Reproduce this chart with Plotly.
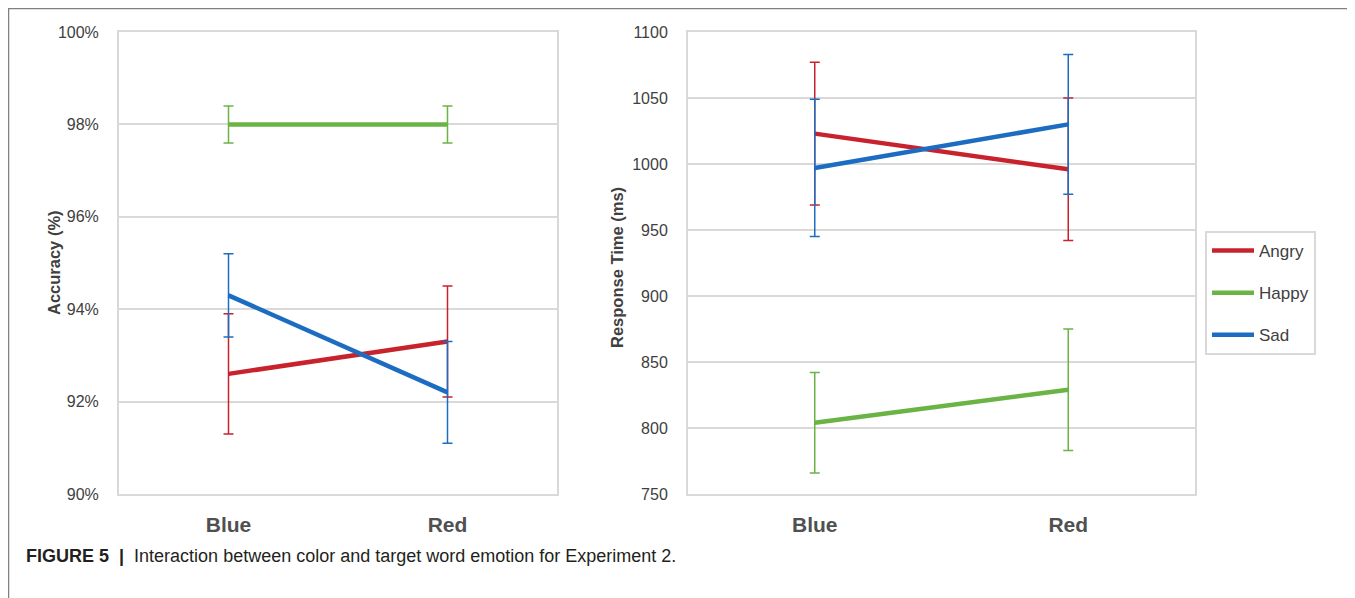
import plotly.graph_objects as go

categories = ["Blue", "Red"]
emotions = ["Angry", "Happy", "Sad"]
colors = {"Angry": "#C8232C", "Happy": "#6AB446", "Sad": "#1C6DC1"}

# Accuracy (%)
acc_angry = [92.6, 93.3]
acc_angry_err = [1.3, 1.2]
acc_happy = [98.0, 98.0]
acc_happy_err = [0.4, 0.4]
acc_sad = [94.3, 92.2]
acc_sad_err = [0.9, 1.1]

# Response time (ms)
rt_angry = [1023, 996]
rt_angry_err = [54, 54]
rt_happy = [804, 829]
rt_happy_err = [38, 46]
rt_sad = [997, 1030]
rt_sad_err = [52, 53]

acc_ticks = [90, 92, 94, 96, 98, 100]
rt_ticks = [750, 800, 850, 900, 950, 1000, 1050, 1100]

acc = {"Angry": (acc_angry, acc_angry_err), "Happy": (acc_happy, acc_happy_err), "Sad": (acc_sad, acc_sad_err)}
rt = {"Angry": (rt_angry, rt_angry_err), "Happy": (rt_happy, rt_happy_err), "Sad": (rt_sad, rt_sad_err)}

# page body has an 8px margin; figure is sized to fill the rest of the window
OFF = 8
W, H = 1355 - OFF, 598 - OFF
FONT = "Liberation Sans, Arial, sans-serif"
GRID = "#D9D9D9"

fig = go.Figure()
for e in emotions:
    v, err = acc[e]
    fig.add_trace(go.Scatter(x=categories, y=v, mode="lines", name=e, showlegend=False,
                             line=dict(color=colors[e], width=4.5),
                             error_y=dict(type="data", array=err, color=colors[e], thickness=1.5, width=5),
                             xaxis="x", yaxis="y"))
for e in emotions:
    v, err = rt[e]
    fig.add_trace(go.Scatter(x=categories, y=v, mode="lines", name=e, showlegend=True,
                             legendgroup=e,
                             line=dict(color=colors[e], width=4.5),
                             error_y=dict(type="data", array=err, color=colors[e], thickness=1.5, width=5),
                             xaxis="x2", yaxis="y2"))

def px_x(p):
    return (p - OFF) / W

def px_y(p):
    return (H - (p - OFF)) / H

xdom1 = [px_x(119), px_x(557)]
xdom2 = [px_x(688), px_x(1195)]
ydom = [px_y(494), px_y(32)]

xcommon = dict(type="category", range=[-0.5, 1.5], showgrid=False, zeroline=False,
               showline=True, linecolor=GRID, linewidth=2, mirror=True, ticks="",
               tickfont=dict(family=FONT, size=21, color="#505050", weight="bold"),
               ticklabelstandoff=11, automargin=False)
ycommon = dict(showgrid=True, gridcolor=GRID, gridwidth=2, zeroline=False,
               showline=True, linecolor=GRID, linewidth=2, mirror=True, ticks="",
               tickfont=dict(family=FONT, size=16, color="#404040"),
               ticklabelstandoff=15, automargin=False)

fig.update_layout(
    width=W, height=H,
    margin=dict(l=0, r=0, t=0, b=0),
    paper_bgcolor="white", plot_bgcolor="white",
    xaxis=dict(domain=xdom1, anchor="y", **xcommon),
    yaxis=dict(domain=ydom, anchor="x", range=[90, 100], tickvals=acc_ticks,
               ticktext=[f"{t}%" for t in acc_ticks], **ycommon),
    xaxis2=dict(domain=xdom2, anchor="y2", **xcommon),
    yaxis2=dict(domain=ydom, anchor="x2", range=[750, 1100], tickvals=rt_ticks, **ycommon),
    legend=dict(x=px_x(1205), y=px_y(231), xanchor="left", yanchor="top",
                bordercolor=GRID, borderwidth=2, bgcolor="white",
                font=dict(family=FONT, size=17, color="#404040"),
                tracegroupgap=17, itemwidth=42),
    showlegend=True,
)

title_font = dict(family=FONT, size=16.5, color="#404040")
annotations = [
    dict(text="<b>Accuracy (%)</b>", x=px_x(43), y=px_y(263), xref="paper", yref="paper",
         textangle=-90, showarrow=False, font=title_font),
    dict(text="<b>Response Time (ms)</b>", x=px_x(617), y=px_y(268), xref="paper", yref="paper",
         textangle=-90, showarrow=False, font=title_font),
    dict(text="<b>FIGURE 5</b>  <b>|</b>  Interaction between color and target word emotion for Experiment 2.",
         x=px_x(24), y=px_y(556), xref="paper", yref="paper", xanchor="left", yanchor="middle",
         showarrow=False, font=dict(family=FONT, size=18, color="#231F20")),
]
fig.update_layout(annotations=annotations)

frame = dict(color="#808080", width=1.5)
fig.add_shape(type="line", xref="paper", yref="paper", x0=px_x(8.5), x1=px_x(8.5), y0=0, y1=1, line=frame)
fig.add_shape(type="line", xref="paper", yref="paper", x0=px_x(8.5), x1=px_x(1352), y0=0.999, y1=0.999, line=frame)
fig.add_shape(type="line", xref="paper", yref="paper", x0=px_x(1352), x1=px_x(1352), y0=0, y1=1, line=frame)

fig.write_html("out.html")
